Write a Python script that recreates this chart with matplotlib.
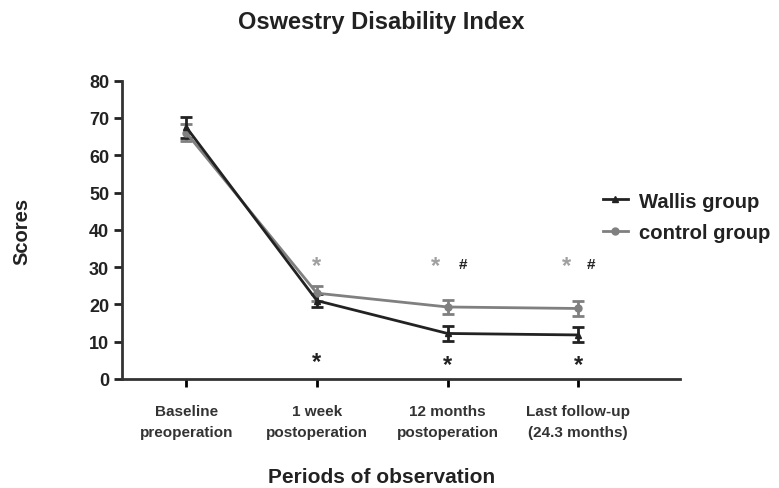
import matplotlib
matplotlib.use("Agg")
import matplotlib.pyplot as plt
from matplotlib.lines import Line2D

plt.rcParams['font.family'] = ['Liberation Sans', 'DejaVu Sans']
plt.rcParams['font.weight'] = 'bold'

periods = ["Baseline\npreoperation", "1 week\npostoperation",
           "12 months\npostoperation", "Last follow-up\n(24.3 months)"]
wallis = [67.5, 21.0, 12.2, 11.8]
wallis_err = [2.8, 1.8, 2.0, 2.0]
control = [66.0, 23.0, 19.3, 18.9]
control_err = [2.3, 2.0, 2.0, 2.0]

# significance marks: (x, y, text, colour)
marks = [(1, 30.5, "*", "#a0a0a0"), (1.91, 30.5, "*", "#a0a0a0"), (2.91, 30.5, "*", "#a0a0a0"),
         (2.12, 30.8, "#", "#222222"), (3.1, 30.8, "#", "#222222"),
         (1, 4.8, "*", "#222222"), (2, 3.8, "*", "#222222"), (3, 3.8, "*", "#222222")]

x = list(range(len(periods)))

fig = plt.figure(figsize=(7.79, 4.89), dpi=100)
ax = fig.add_axes([0.157, 0.223, 0.716, 0.61])

ax.errorbar(x, control, yerr=control_err, color="#808080", linewidth=2,
            marker="o", markersize=5, capsize=4, capthick=2, elinewidth=2)
ax.errorbar(x, wallis, yerr=wallis_err, color="#222222", linewidth=2,
            marker="^", markersize=5, capsize=4, capthick=2, elinewidth=2)

for mx, my, t, c in marks:
    if t == "*":
        ax.text(mx, my, t, color=c, fontsize=17, ha="center", va="center")
    else:
        ax.text(mx, my, t, color=c, fontsize=11, ha="center", va="center")

ax.set_xlim(-0.49, 3.78)
ax.set_ylim(0, 80)
ax.set_yticks(range(0, 81, 10))
ax.set_xticks(x)
ax.set_xticklabels(periods, fontsize=11, color="#333333", linespacing=1.6)
ax.tick_params(axis="y", labelsize=13, colors="#222222", width=2, length=6)
ax.tick_params(axis="x", width=2, length=6, pad=12)
ax.spines["top"].set_visible(False)
ax.spines["right"].set_visible(False)
ax.spines["left"].set_linewidth(2)
ax.spines["bottom"].set_linewidth(2)
ax.spines["left"].set_color("#333333")
ax.spines["bottom"].set_color("#333333")

handles = [Line2D([], [], color="#222222", linewidth=2, marker="^", markersize=5),
           Line2D([], [], color="#808080", linewidth=2, marker="o", markersize=5)]
fig.legend(handles, ["Wallis group", "control group"], loc="center left",
           bbox_to_anchor=(0.764, 0.555), borderaxespad=0, frameon=False,
           fontsize=14.6, handlelength=1.2, handletextpad=0.55,
           labelspacing=0.6, labelcolor="#222222")

fig.text(0.49, 0.953, "Oswestry Disability Index", ha="center", va="center",
         fontsize=17, color="#222222")
fig.text(0.028, 0.527, "Scores", rotation=90, ha="center", va="center",
         fontsize=14.5, color="#222222")
fig.text(0.49, 0.024, "Periods of observation", ha="center", va="center",
         fontsize=15, color="#222222")

fig.savefig("out.png", dpi=100)
